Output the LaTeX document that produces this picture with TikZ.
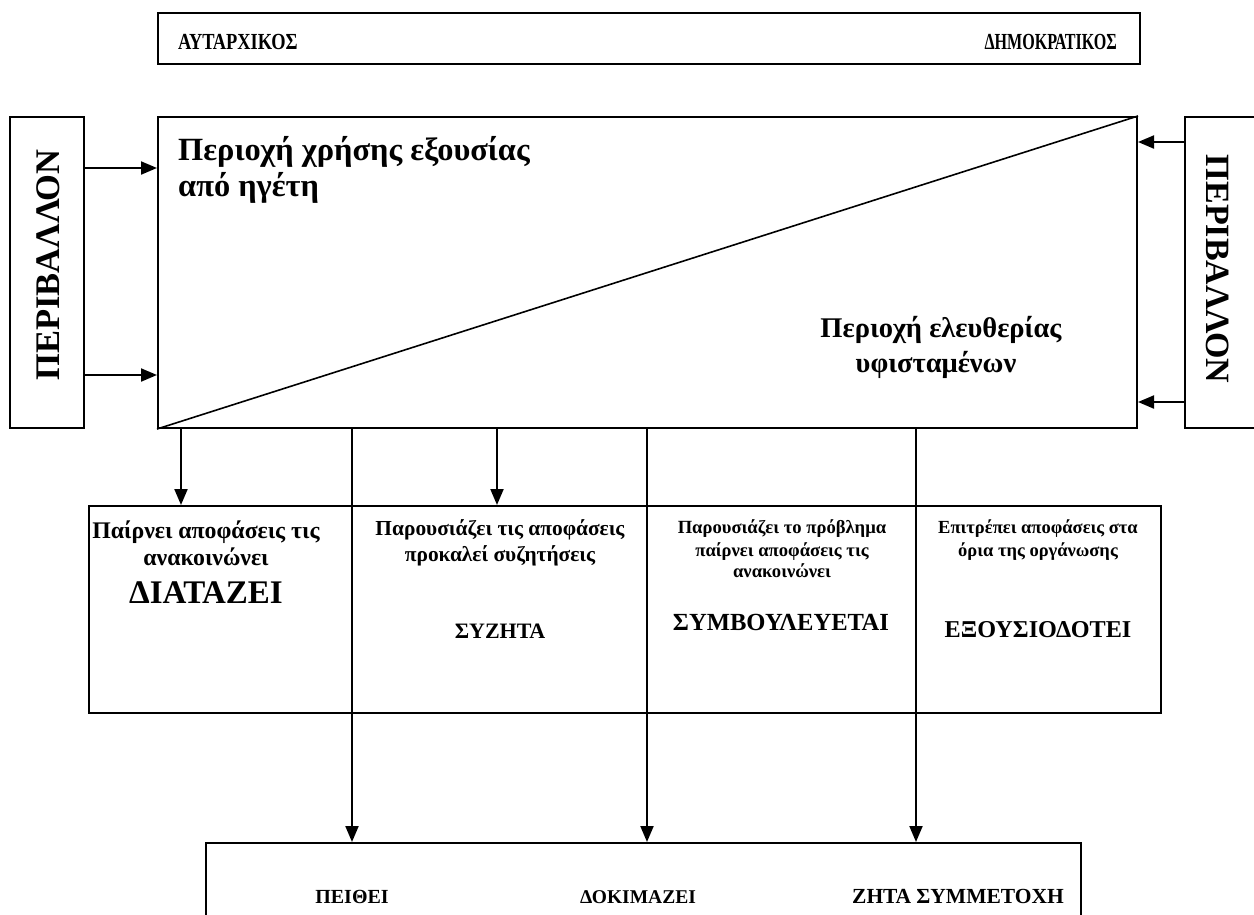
\documentclass[tikz,border=0pt]{standalone}
\usepackage{graphicx}
\usepackage{fontspec}
\setmainfont{Liberation Serif}
\usetikzlibrary{arrows.meta}
\begin{document}
\begin{tikzpicture}[x=1pt,y=-1pt,
  box/.style={draw, line width=2pt, inner sep=0pt, anchor=north west},
  arr/.style={line width=2pt, -{Triangle[length=16pt,width=13pt]}},
  txt/.style={inner sep=0pt, font=\bfseries},
]
\useasboundingbox (0,0) rectangle (1254,914);
\clip (0,0) rectangle (1254,914);

% boxes
\node[box, minimum width=982pt, minimum height=51pt] (top) at (157,12) {};
\node[box, minimum width=979pt, minimum height=311pt] (main) at (157,116) {};
\node[box, minimum width=74pt, minimum height=311pt] (lb) at (9,116) {};
\node[box, minimum width=90pt, minimum height=311pt] (rb) at (1184,116) {};
\node[box, minimum width=1072pt, minimum height=207pt] (mid) at (88,505) {};
\node[box, minimum width=875pt, minimum height=130pt] (bot) at (205,842) {};

% diagonal
\draw[line width=1.6pt] (main.south west) -- (main.north east);

% texts top
\node[txt, anchor=base west, font=\bfseries\fontsize{23}{27}\selectfont] (aut) at (178,49) {\scalebox{0.80}[1]{ΑΥΤΑΡΧΙΚΟΣ}};
\node[txt, anchor=base east, font=\bfseries\fontsize{23}{27}\selectfont] (dim) at (1117,49) {\scalebox{0.70}[1]{ΔΗΜΟΚΡΑΤΙΚΟΣ}};

% main texts
\node[txt, anchor=base west, font=\bfseries\fontsize{32.4}{38}\selectfont] (p1) at (178,160) {Περιοχή χρήσης εξουσίας};
\node[txt, anchor=base west, font=\bfseries\fontsize{32.4}{38}\selectfont] (p2) at (178,196) {από ηγέτη};
\node[txt, anchor=base, font=\bfseries\fontsize{28.5}{34}\selectfont] (q1) at (941,337) {Περιοχή ελευθερίας};
\node[txt, anchor=base, font=\bfseries\fontsize{28.5}{34}\selectfont] (q2) at (936,372) {υφισταμένων};

% side labels
\node[txt, rotate=90, font=\bfseries\fontsize{34.5}{40}\selectfont] (lbt) at (48,265) {ΠΕΡΙΒΑΛΛΟΝ};
\node[txt, rotate=-90, font=\bfseries\fontsize{34}{40}\selectfont] (rbt) at (1218,269) {ΠΕΡΙΒΑΛΛΟΝ};

% helper coordinates
\coordinate (yl1) at (0,168);
\coordinate (yl2) at (0,375);
\coordinate (yr1) at (0,142);
\coordinate (yr2) at (0,402);
\coordinate (xa) at (181,0);
\coordinate (xb) at (352,0);
\coordinate (xc) at (497,0);
\coordinate (xd) at (647,0);
\coordinate (xe) at (916,0);

% side arrows
\draw[arr] (lb.east |- yl1) -- (main.west |- yl1);
\draw[arr] (lb.east |- yl2) -- (main.west |- yl2);
\draw[arr] (rb.west |- yr1) -- (main.east |- yr1);
\draw[arr] (rb.west |- yr2) -- (main.east |- yr2);

% down arrows
\draw[arr] (main.south -| xa) -- (mid.north -| xa);
\draw[arr] (main.south -| xc) -- (mid.north -| xc);
\draw[arr] (main.south -| xb) -- (bot.north -| xb);
\draw[arr] (main.south -| xd) -- (bot.north -| xd);
\draw[arr] (main.south -| xe) -- (bot.north -| xe);

% column 1
\node[txt, anchor=base, font=\bfseries\fontsize{23.8}{28}\selectfont] (c1a) at (206,538) {Παίρνει αποφάσεις τις};
\node[txt, anchor=base, font=\bfseries\fontsize{23.8}{28}\selectfont] (c1b) at (206,565) {ανακοινώνει};
\node[txt, anchor=base, font=\bfseries\fontsize{33}{38}\selectfont] (c1c) at (206,603) {ΔΙΑΤΑΖΕΙ};
% column 2
\node[txt, anchor=base, font=\bfseries\fontsize{21.4}{25}\selectfont] (c2a) at (500,535) {Παρουσιάζει τις αποφάσεις};
\node[txt, anchor=base, font=\bfseries\fontsize{21.4}{25}\selectfont] (c2b) at (500,561) {προκαλεί συζητήσεις};
\node[txt, anchor=base, font=\bfseries\fontsize{22}{26}\selectfont] (c2c) at (500,638) {ΣΥΖΗΤΑ};
% column 3
\node[txt, anchor=base, font=\bfseries\fontsize{18.6}{22}\selectfont] (c3a) at (782,533) {Παρουσιάζει το πρόβλημα};
\node[txt, anchor=base, font=\bfseries\fontsize{18.6}{22}\selectfont] (c3b) at (782,556) {παίρνει αποφάσεις τις};
\node[txt, anchor=base, font=\bfseries\fontsize{18.6}{22}\selectfont] (c3c) at (782,577) {ανακοινώνει};
\node[txt, anchor=base, font=\bfseries\fontsize{24.6}{29}\selectfont] (c3d) at (781,630) {ΣΥΜΒΟΥΛΕΥΕΤΑΙ};
% column 4
\node[txt, anchor=base, font=\bfseries\fontsize{18.5}{22}\selectfont] (c4a) at (1038,533) {Επιτρέπει αποφάσεις στα};
\node[txt, anchor=base, font=\bfseries\fontsize{18.5}{22}\selectfont] (c4b) at (1038,556) {όρια της οργάνωσης};
\node[txt, anchor=base, font=\bfseries\fontsize{24.2}{28}\selectfont] (c4c) at (1038,637) {ΕΞΟΥΣΙΟΔΟΤΕΙ};

% bottom texts
\node[txt, anchor=base, font=\bfseries\fontsize{20}{24}\selectfont] (b1) at (352,903) {ΠΕΙΘΕΙ};
\node[txt, anchor=base, font=\bfseries\fontsize{19.5}{24}\selectfont] (b2) at (638,903) {ΔΟΚΙΜΑΖΕΙ};
\node[txt, anchor=base, font=\bfseries\fontsize{21.5}{25}\selectfont] (b3) at (958,903) {ΖΗΤΑ ΣΥΜΜΕΤΟΧΗ};
\end{tikzpicture}
\end{document}
